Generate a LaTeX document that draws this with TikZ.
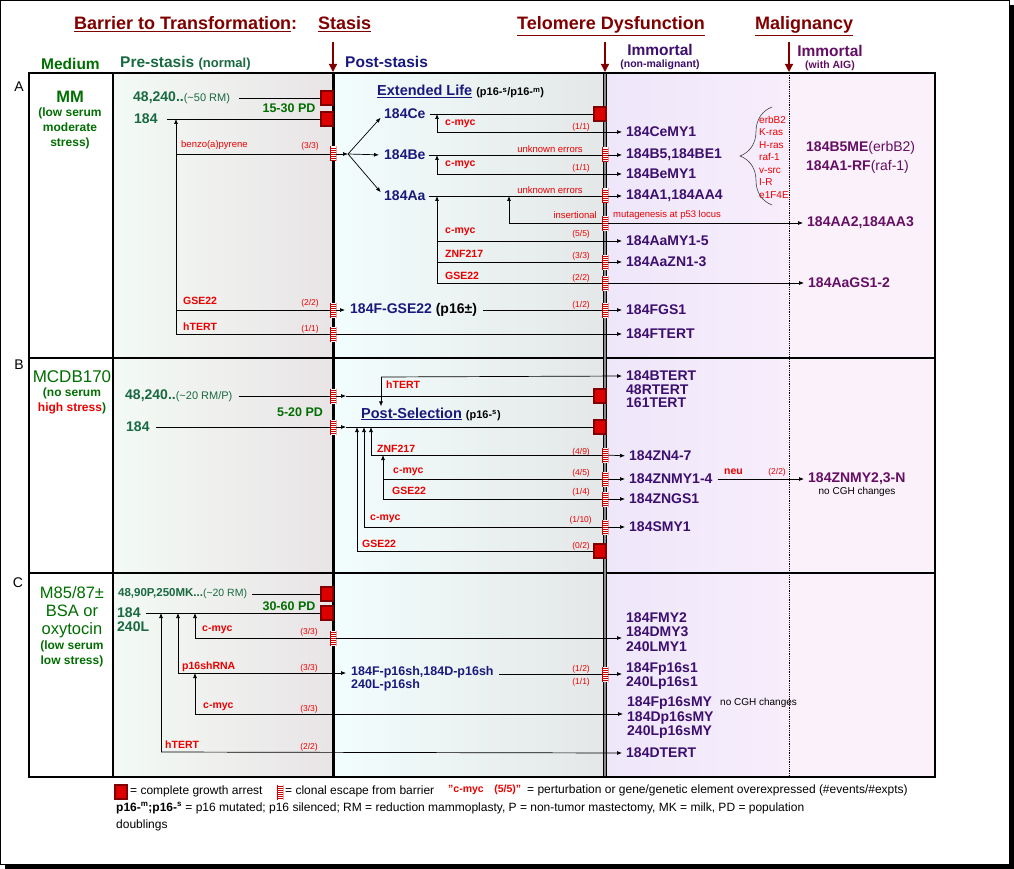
\documentclass[tikz,border=0pt]{standalone}
\usepackage{fontspec}
\setmainfont{Liberation Sans}
\usetikzlibrary{arrows.meta,decorations.pathreplacing}

\definecolor{barred}{RGB}{128,0,0}
\definecolor{medgreen}{RGB}{0,110,0}
\definecolor{pregreen}{RGB}{25,105,65}
\definecolor{navy}{RGB}{25,25,125}
\definecolor{immpurple}{RGB}{60,15,110}
\definecolor{malpurple}{RGB}{100,15,100}
\definecolor{hotred}{RGB}{235,0,0}
\definecolor{springred}{RGB}{200,0,0}
\definecolor{arrestred}{RGB}{220,0,0}
\definecolor{preleft}{RGB}{243,250,245}
\definecolor{preright}{RGB}{233,228,230}
\definecolor{postleft}{RGB}{242,253,253}
\definecolor{postright}{RGB}{228,231,231}
\definecolor{immleft}{RGB}{238,231,250}
\definecolor{immright}{RGB}{247,237,251}
\definecolor{malbg}{RGB}{251,241,250}

\tikzset{
  hdr/.style={font=\bfseries\fontsize{18}{20}\selectfont, text=barred, anchor=base west},
  colhd/.style={font=\bfseries\fontsize{15.5}{17}\selectfont, anchor=base west},
  cell/.style={font=\bfseries\fontsize{14}{14.5}\selectfont, anchor=west, align=left},
  pre/.style={cell, text=pregreen},
  post/.style={cell, text=navy},
  imm/.style={cell, text=immpurple},
  mal/.style={cell, text=malpurple},
  agent/.style={font=\bfseries\fontsize{10.5}{12}\selectfont, text=hotred, anchor=west},
  note/.style={font=\fontsize{9.5}{11}\selectfont, text=hotred},
  cnt/.style={font=\fontsize{8.5}{10}\selectfont, text=hotred, anchor=east},
  legend/.style={font=\fontsize{12}{13}\selectfont, anchor=west},
  arrest/.style={draw=barred, fill=arrestred, line width=1.3pt, minimum width=12pt, minimum height=14pt},
  escape/.style={minimum width=6.5pt, minimum height=15pt, fill=white,
    path picture={
      \foreach \k in {0,...,6}
        \draw[springred, line width=0.8pt]
          ([yshift=-1.5pt-2pt*\k]path picture bounding box.north west) --
          ([yshift=-1.5pt-2pt*\k]path picture bounding box.north east);
      \draw[springred, line width=0.5pt]
        (path picture bounding box.north west) -- (path picture bounding box.south west)
        (path picture bounding box.north east) -- (path picture bounding box.south east);
    }},
  bar/.style={line width=0.7pt},
  link/.style={-{Latex[length=5pt,width=4pt]}, line width=0.7pt},
  to/.style={link, shorten >=4pt},
  stagearrow/.style={barred, line width=1.2pt, -{Triangle[length=8pt,width=8pt]}},
}

\begin{document}
\begin{tikzpicture}[x=1pt,y=-1pt, every node/.append style={inner sep=0pt}]
  \useasboundingbox (0,0) rectangle (1014,869);
  % frame with shadow
  \fill[black] (5,5) rectangle (1014,869);
  \filldraw[fill=white,draw=black,line width=1pt] (0.5,0.5) rectangle (1009,864);

  % column backgrounds
  \shade[left color=preleft, right color=preright] (113,73) rectangle (333,777);
  \shade[left color=postleft, right color=postright] (333,73) rectangle (605,777);
  \shade[left color=immleft, right color=immright] (605,73) rectangle (789,777);
  \fill[malbg] (789,73) rectangle (935,777);

  % grid
  \draw[line width=2pt] (29,358) -- (935,358) (29,573) -- (935,573);
  \draw[line width=2pt] (113,73) -- (113,777);
  \draw[line width=3pt] (333,73) -- (333,777);
  \draw[line width=1.1pt, double=black!45, double distance=1.3pt] (605,73) -- (605,777);
  \draw[densely dotted, line width=0.8pt] (789,73) -- (789,777);
  \draw[line width=2.5pt] (29,73) rectangle (935,777);

  % barrier headers
  \node[hdr] (hbar) at (74,30) {\underline{Barrier to Transformation}:};
  \node[hdr] (hsta) at (318,30) {\underline{Stasis}};
  \node[hdr] (htel) at (517,30) {\underline{Telomere Dysfunction}};
  \node[hdr] (hmal) at (755,30) {\underline{Malignancy}};
  \coordinate (sarr) at (333,42);
  \coordinate (tarr) at (605,42);
  \coordinate (marr) at (789,42);
  \coordinate (stasisT) at (333,72);
  \coordinate (telT) at (605,72);
  \coordinate (malT) at (789,72);
  \draw[stagearrow] (sarr) -- (stasisT);
  \draw[stagearrow] (tarr) -- (telT);
  \draw[stagearrow] (marr) -- (malT);

  % column headers
  \node[colhd, text=medgreen] (hmed) at (41,70) {Medium};
  \node[colhd, text=pregreen] (hpre) at (120,68) {Pre-stasis {\fontsize{13}{14}\selectfont(normal)}};
  \node[colhd, text=navy] (hpost) at (345,68) {Post-stasis};
  \node[colhd, anchor=base, text=immpurple] (himm) at (660,56) {Immortal};
  \node[anchor=base, font=\bfseries\fontsize{10.5}{12}\selectfont, text=immpurple] (himmsub) at (660,68) {(non-malignant)};
  \node[colhd, anchor=base, text=malpurple] (hmalig) at (830,57) {Immortal};
  \node[anchor=base, font=\bfseries\fontsize{10.5}{12}\selectfont, text=malpurple] (hmaligsub) at (830,69) {(with AIG)};

  % ---------------- row A
  \node[font=\fontsize{14}{16}\selectfont] (rowA) at (19,87) {A};
  \node[font=\bfseries\fontsize{16.5}{18}\selectfont, text=medgreen] (mmA) at (70,97) {MM};
  \node[font=\bfseries\fontsize{12}{15}\selectfont, text=medgreen, align=center] (mmAsub) at (70,128) {(low serum\\moderate\\stress)};
  \node[pre] (a48) at (133,98) {48,240..{\mdseries\fontsize{11}{13}\selectfont(\textasciitilde50 RM)}};
  \node[pre] (a184) at (134,119) {184};
  \node[font=\bfseries\fontsize{12.5}{14}\selectfont, text=medgreen] (apd) at (289,108) {15-30 PD};
  \node[arrest] (aarr1) at (327,98) {};
  \node[arrest] (aarr2) at (327,119) {};
  \node[anchor=base west, font=\bfseries\fontsize{14.5}{16}\selectfont, text=navy] (elife) at (377,96)
    {\underline{Extended Life} {\color{black}\fontsize{11}{13}\selectfont(p16-\textsuperscript{s}/p16-\textsuperscript{m})}};
  \node[post] (ce) at (384,114) {184Ce};
  \node[post] (be) at (384,155) {184Be};
  \node[post] (aa) at (384,196) {184Aa};
  \node[post] (fgse) at (350,310) {184F-GSE22 {\color{black}(p16±)}};
  \node[arrest] (aarr3) at (600,114) {};
  \node[escape] (aesc1) at (333,154) {};
  \node[escape] (aesc2) at (605,155) {};
  \node[escape] (aesc3) at (605,196) {};
  \node[escape] (aesc4) at (605,223) {};
  \node[escape] (aesc5) at (605,262) {};
  \node[escape] (aesc6) at (605,283) {};
  \node[escape] (aesc7) at (333,310) {};
  \node[escape] (aesc8) at (605,310) {};
  \node[escape] (aesc9) at (333,334) {};
  \node[imm] (cemy) at (626,132) {184CeMY1};
  \node[imm] (b5) at (626,155) {184B5,184BE1};
  \node[imm] (bemy) at (626,174) {184BeMY1};
  \node[imm] (a1) at (626,196) {184A1,184AA4};
  \node[imm] (aamy) at (626,241) {184AaMY1-5};
  \node[imm] (aazn) at (626,262) {184AaZN1-3};
  \node[imm] (fgs1) at (626,310) {184FGS1};
  \node[imm] (ftert) at (626,334) {184FTERT};
  \node[mal] (b5me) at (806,148) {184B5ME{\mdseries(erbB2)}};
  \node[mal] (a1rf) at (806,167) {184A1-RF{\mdseries(raf-1)}};
  \node[mal] (aa2) at (807,223) {184AA2,184AA3};
  \node[mal] (aags) at (808,283) {184AaGS1-2};
  \node[note, anchor=north west, align=left, font=\fontsize{10}{12.5}\selectfont] (onco) at (759,116)
    {erbB2\\K-ras\\H-ras\\raf-1\\v-src\\I-R\\e1F4E};
  \draw[decorate, decoration={brace, amplitude=32pt}, line width=0.6pt, black!75] (772,205) -- (772,107);

  \coordinate (aroot) at (176,334);
  \coordinate (abenzo) at (176,154);
  \coordinate (jgse) at (176,310);
  \coordinate (asplit) at (348,154);
  \coordinate (jce) at (437,132);
  \coordinate (jbe) at (437,174);
  \coordinate (jins) at (509,223);
  \coordinate (jmyc) at (437,241);
  \coordinate (jzn) at (437,262);
  \coordinate (jaa) at (437,283);

  \node[note, anchor=west] (lbenzo) at (181,145) {benzo(a)pyrene};
  \node[cnt] (nbenzo) at (319,146) {(3/3)};
  \node[agent] (lcemyc) at (445,124) {c-myc};
  \node[cnt] (ncemyc) at (590,127) {(1/1)};
  \node[note] (lbeerr) at (550,149) {unknown errors};
  \node[agent] (lbemyc) at (445,165) {c-myc};
  \node[cnt] (nbemyc) at (590,168) {(1/1)};
  \node[note] (laaerr) at (550,190) {unknown errors};
  \node[note, anchor=east] (lins) at (597,215) {insertional};
  \node[note, anchor=west] (lmut) at (613,215) {mutagenesis at p53 locus};
  \node[agent] (laamyc) at (445,232) {c-myc};
  \node[cnt] (naamyc) at (590,234) {(5/5)};
  \node[agent] (laazn) at (445,254) {ZNF217};
  \node[cnt] (naazn) at (590,256) {(3/3)};
  \node[agent] (laags) at (445,276) {GSE22};
  \node[cnt] (naags) at (590,278) {(2/2)};
  \node[agent] (lfgse) at (183,301) {GSE22};
  \node[cnt] (nfgse) at (319,303) {(2/2)};
  \node[cnt] (nfgs1) at (590,305) {(1/2)};
  \node[agent] (laht) at (183,327) {hTERT};
  \node[cnt] (naht) at (319,329) {(1/1)};

  \draw[bar, shorten <=9pt] (a48.east) -- (aarr1);
  \draw[bar, shorten <=9pt] (a184.east) -- (aarr2);
  \draw[link] (aroot) -- (aroot |- a184);
  \draw[bar] (abenzo) -- (aesc1);
  \draw[link] (aesc1) -- (asplit);
  \draw[link, shorten >=5pt] (asplit) -- (ce.west);
  \draw[link, shorten >=5pt] (asplit) -- (be.west);
  \draw[link, shorten >=5pt] (asplit) -- (aa.west);
  \draw[bar, shorten <=4pt] (ce.east) -- (aarr3);
  \draw[link] (jce) -- (jce |- ce);
  \draw[to] (jce) -- (cemy.west);
  \draw[bar, shorten <=3pt] (be.east) -- (aesc2);
  \draw[to] (aesc2) -- (b5.west);
  \draw[link] (jbe) -- (jbe |- be);
  \draw[to] (jbe) -- (bemy.west);
  \draw[bar, shorten <=3pt] (aa.east) -- (aesc3);
  \draw[to] (aesc3) -- (a1.west);
  \draw[link] (jaa) -- (jaa |- aa);
  \draw[link] (jins) -- (jins |- aa);
  \draw[bar] (jins) -- (aesc4);
  \draw[to] (aesc4) -- (aa2.west);
  \draw[to] (jmyc) -- (aamy.west);
  \draw[bar] (jzn) -- (aesc5);
  \draw[to] (aesc5) -- (aazn.west);
  \draw[bar] (jaa) -- (aesc6);
  \draw[to] (aesc6) -- (aags.west);
  \draw[bar] (jgse) -- (aesc7);
  \draw[link, shorten >=5pt] (aesc7) -- (fgse.west);
  \draw[bar, shorten <=6pt] (fgse.east) -- (aesc8);
  \draw[to] (aesc8) -- (fgs1.west);
  \draw[bar] (aroot) -- (aesc9);
  \draw[to] (aesc9) -- (ftert.west);

  % ---------------- row B
  \node[font=\fontsize{14}{16}\selectfont] (rowB) at (19,365) {B};
  \node[font=\fontsize{17}{18}\selectfont, text=medgreen] (mcdb) at (72,377) {MCDB170};
  \node[font=\bfseries\fontsize{12}{15}\selectfont, text=medgreen, align=center] (mcdbsub) at (72,401)
    {(no serum\\{\color{hotred}high stress})};
  \node[pre] (b48) at (125,396) {48,240..{\mdseries\fontsize{11}{13}\selectfont(\textasciitilde20 RM/P)}};
  \node[pre] (b184) at (126,427) {184};
  \node[font=\bfseries\fontsize{12.5}{14}\selectfont, text=medgreen] (bpd) at (300,412) {5-20 PD};
  \node[escape] (besc1) at (333,396) {};
  \node[escape] (besc2) at (333,427) {};
  \node[arrest] (barr1) at (600,396) {};
  \node[arrest] (barr2) at (600,427) {};
  \node[arrest] (barr3) at (600,551) {};
  \node[escape] (besc3) at (605,455) {};
  \node[escape] (besc4) at (605,479) {};
  \node[escape] (besc5) at (605,499) {};
  \node[escape] (besc6) at (605,527) {};
  \node[anchor=west, font=\bfseries\fontsize{14.5}{16}\selectfont, text=navy] (postsel) at (361,414)
    {\underline{Post-Selection} {\color{black}\fontsize{11}{13}\selectfont(p16-\textsuperscript{s})}};
  \node[imm] (btert) at (626,376) {184BTERT};
  \node[imm] (r48) at (626,389.5) {48RTERT};
  \node[imm] (t161) at (626,403) {161TERT};
  \node[imm] (zn47) at (629,456) {184ZN4-7};
  \node[imm] (znmy) at (629,479) {184ZNMY1-4};
  \node[imm] (zngs) at (629,499) {184ZNGS1};
  \node[imm] (smy) at (629,527) {184SMY1};
  \node[mal] (znmyn) at (808,479) {184ZNMY2,3-N};
  \node[font=\fontsize{10}{11}\selectfont] (nocgh1) at (857,492) {no CGH changes};

  \coordinate (bmid1) at (346,396);
  \coordinate (bmid2) at (346,427);
  \coordinate (bht) at (381,377);
  \coordinate (bzn) at (371,455);
  \coordinate (bmyc) at (383,479);
  \coordinate (bgs) at (383,499);
  \coordinate (bsm) at (364,527);
  \coordinate (bgs2) at (357,551);

  \node[agent] (lbht) at (386,385) {hTERT};
  \node[agent] (lbzn) at (377,449) {ZNF217};
  \node[cnt] (nbzn) at (590,452) {(4/9)};
  \node[agent] (lbmyc) at (393,472) {c-myc};
  \node[cnt] (nbmyc) at (590,473) {(4/5)};
  \node[agent] (lbgs) at (392,491) {GSE22};
  \node[cnt] (nbgs) at (590,492) {(1/4)};
  \node[agent] (lbsm) at (370,519) {c-myc};
  \node[cnt] (nbsm) at (592,520) {(1/10)};
  \node[agent] (lbgs2) at (362,544) {GSE22};
  \node[cnt] (nbgs2) at (590,546) {(0/2)};
  \node[agent] (lneu) at (724,472) {neu};
  \node[cnt] (nneu) at (786,472) {(2/2)};

  \draw[bar, shorten <=6pt] (b48.east) -- (besc1);
  \draw[link] (besc1) -- (bmid1);
  \draw[bar] (bmid1) -- (barr1);
  \draw[bar, shorten <=6pt] (b184.east) -- (besc2);
  \draw[link] (besc2) -- (bmid2);
  \draw[bar] (bmid2) -- (barr2);
  \draw[to] (bht) -- (btert.west);
  \draw[link, shorten >=1pt] (bht) -- (bht |- postsel.north);
  \draw[link] (bzn) -- (bzn |- b184);
  \draw[link] (bsm) -- (bsm |- b184);
  \draw[link] (bgs2) -- (bgs2 |- b184);
  \draw[link] (bgs) -- (bgs |- bzn);
  \draw[bar] (bzn) -- (besc3);
  \draw[to] (besc3) -- (zn47.west);
  \draw[bar] (bmyc) -- (besc4);
  \draw[to] (besc4) -- (znmy.west);
  \draw[bar] (bgs) -- (besc5);
  \draw[to] (besc5) -- (zngs.west);
  \draw[bar] (bsm) -- (besc6);
  \draw[to] (besc6) -- (smy.west);
  \draw[bar] (bgs2) -- (barr3);
  \draw[to, shorten <=5pt] (znmy.east) -- (znmyn.west);

  % ---------------- row C
  \node[font=\fontsize{14}{16}\selectfont] (rowC) at (18,583) {C};
  \node[font=\fontsize{16.5}{18}\selectfont, text=medgreen, align=center] (mcc) at (72,612) {M85/87±\\BSA or\\oxytocin};
  \node[font=\bfseries\fontsize{12}{15}\selectfont, text=medgreen, align=center] (mccsub) at (72,653.5) {(low serum\\low stress)};
  \node[anchor=west, font=\bfseries\fontsize{11.5}{13}\selectfont, text=pregreen] (c48) at (118,594)
    {48,90P,250MK...{\mdseries\fontsize{10.5}{12}\selectfont(\textasciitilde20 RM)}};
  \node[pre] (c184) at (117,613) {184};
  \node[pre] (c240) at (117,627) {240L};
  \node[font=\bfseries\fontsize{12.5}{14}\selectfont, text=medgreen] (cpd) at (289,606) {30-60 PD};
  \node[arrest] (carr1) at (327,594) {};
  \node[arrest] (carr2) at (327,613) {};
  \node[escape] (cesc1) at (333,638) {};
  \node[escape] (cesc2) at (605,674) {};
  \node[post, font=\bfseries\fontsize{12.5}{13}\selectfont] (fsh) at (351,672) {184F-p16sh,184D-p16sh};
  \node[post, font=\bfseries\fontsize{12.5}{13}\selectfont] (lsh) at (351,685) {240L-p16sh};
  \node[imm] (cmy) at (626,632) {184FMY2\\184DMY3\\240LMY1};
  \node[imm] (fp16) at (626,676) {184Fp16s1\\240Lp16s1};
  \node[imm] (fmy) at (627,718) {184Fp16sMY\\184Dp16sMY\\240Lp16sMY};
  \node[imm] (dtert) at (626,753) {184DTERT};
  \node[font=\fontsize{10}{11}\selectfont, anchor=west] (nocgh2) at (720,703) {no CGH changes};

  \coordinate (cmyc1) at (195,638);
  \coordinate (csh) at (178,673);
  \coordinate (cmyc2) at (195,714);
  \coordinate (cht) at (161,752);

  \node[agent] (lcmyc1) at (202,630) {c-myc};
  \node[cnt] (ncmyc1) at (318,632) {(3/3)};
  \node[agent] (lcsh) at (182,667) {p16shRNA};
  \node[cnt] (ncsh) at (318,668) {(3/3)};
  \node[cnt] (nfp1) at (590,669) {(1/2)};
  \node[cnt] (nfp2) at (590,682) {(1/1)};
  \node[agent] (lcmyc2) at (203,707) {c-myc};
  \node[cnt] (ncmyc2) at (318,709) {(3/3)};
  \node[agent] (lcht) at (165,745) {hTERT};
  \node[cnt] (ncht) at (318,747) {(2/2)};

  \draw[bar, shorten <=5pt] (c48.east) -- (carr1);
  \draw[bar, shorten <=5pt] (c184.east) -- (carr2);
  \draw[link] (cmyc1) -- (cmyc1 |- c184);
  \draw[link] (csh) -- (csh |- c184);
  \draw[link] (cht) -- (cht |- c184);
  \draw[link] (cmyc2) -- (cmyc2 |- csh);
  \draw[bar] (cmyc1) -- (cesc1);
  \draw[to] (cesc1) -- (cmy.west |- cesc1);
  \draw[link, shorten >=5pt] (csh) -- (fsh.west |- csh);
  \draw[bar, shorten <=5pt] (fsh.east |- cesc2) -- (cesc2);
  \draw[to] (cesc2) -- (fp16.west |- cesc2);
  \draw[to] (cmyc2) -- (fmy.west |- cmyc2);
  \draw[to] (cht) -- (dtert.west);

  % ---------------- legend
  \node[arrest] (legarr) at (121,792) {};
  \node[legend] (legarrt) at (130,791) {= complete growth arrest};
  \node[escape] (legesc) at (280,792) {};
  \node[legend] (legesct) at (285,791) {= clonal escape from barrier};
  \node[anchor=west, font=\bfseries\fontsize{10.5}{12}\selectfont, text=hotred] (legpert) at (448,790) {"c-myc\quad(5/5)"};
  \node[legend] (legpertt) at (527,790) {= perturbation or gene/genetic element overexpressed (\#events/\#expts)};
  \node[legend] (legabbr) at (116,808) {\textbf{p16-\textsuperscript{m};p16-\textsuperscript{s}} = p16 mutated; p16 silenced; RM = reduction mammoplasty, P = non-tumor mastectomy, MK = milk, PD = population};
  \node[legend] (legdbl) at (116,825) {doublings};
\end{tikzpicture}
\end{document}
